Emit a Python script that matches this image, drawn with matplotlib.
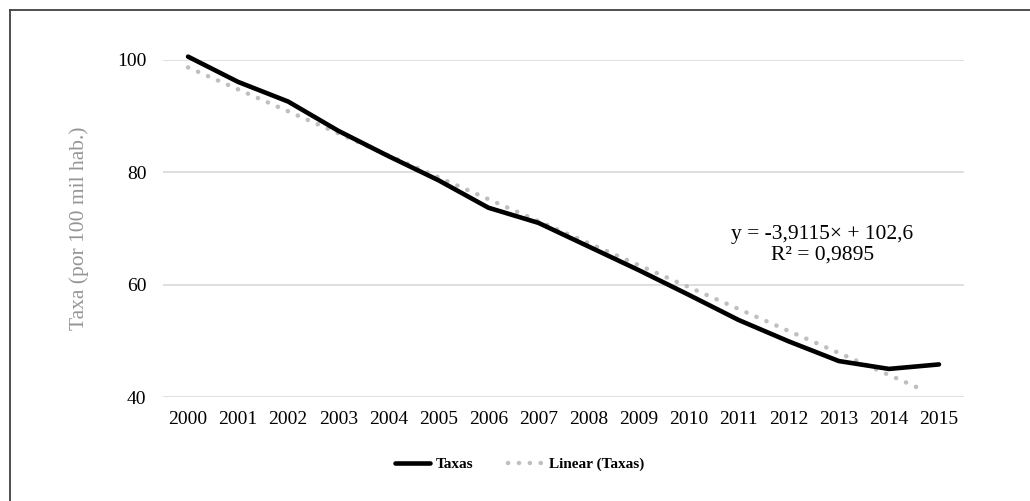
import matplotlib
matplotlib.use('Agg')

import matplotlib.pyplot as plt
from matplotlib.lines import Line2D
import numpy as np

plt.rcParams['font.family'] = ['Liberation Serif', 'DejaVu Serif']

# data
years = [str(y) for y in range(2000, 2016)]
taxas = [100.6, 96.1, 92.6, 87.4, 82.9, 78.6, 73.7, 71.0,
         66.8, 62.6, 58.2, 53.7, 49.9, 46.4, 45.0, 45.8]
trend_slope = -3.9115
trend_intercept = 102.6
trend_r2 = 0.9895
trend_end = 15.7  # excel x (1-based) where the trendline stops
yticks = [40, 60, 80, 100]

W, H = 1030, 501
fig = plt.figure(figsize=(W / 100, H / 100), dpi=100)
ax = fig.add_axes([163 / W, 1 - 397 / H, (964 - 163) / W, (397 - 60) / H])

xs = np.arange(len(taxas))
tx = np.linspace(1, trend_end, 50)
ty = trend_slope * tx + trend_intercept

ax.plot(xs, taxas, color='black', linewidth=3.3, solid_capstyle='round',
        clip_on=False, zorder=3, label='Taxas')
ax.plot(tx - 1, ty, color='#BFBFBF', linewidth=3.2, linestyle=(0, (0.05, 2.4)),
        dash_capstyle='round', clip_on=False, zorder=2, label='Linear (Taxas)')

ax.set_xlim(-0.5, len(taxas) - 0.5)
ax.set_ylim(40, 100)
ax.set_yticks(yticks)
ax.set_xticks(xs)
ax.set_xticklabels(years)
ax.grid(True, axis='y', color='#D9D9D9', linewidth=1.2)
ax.set_axisbelow(True)
for s in ax.spines.values():
    s.set_visible(False)
ax.tick_params(axis='both', length=0, labelsize=14)
ax.tick_params(axis='y', pad=12)
ax.tick_params(axis='x', pad=10)

ax.set_ylabel('Taxa (por 100 mil hab.)', color='#959595', fontsize=15.5, labelpad=20)

eq = 'y = {:.4f}\u00d7 + {:.1f}'.format(trend_slope, trend_intercept).replace('.', ',')
r2 = 'R\u00b2 = {:.4f}'.format(trend_r2).replace('.', ',')
ax.text(12.67, 67.1, eq + '\n' + r2, ha='center', va='center',
        fontsize=15.5, linespacing=1.1)

ax.legend(loc='center', bbox_to_anchor=(0.5 + (519 - 563) / (964 - 163), -0.2),
          ncol=2, frameon=False, prop={'size': 11, 'weight': 'bold'},
          handlelength=2.3, columnspacing=2.3, handletextpad=0.35)

# chart border (only top/left inside the image)
fig.add_artist(Line2D([10 / W, 10 / W], [0, 1 - 10 / H], transform=fig.transFigure,
                      color='#404040', linewidth=1.3))
fig.add_artist(Line2D([10 / W, 1], [1 - 10 / H, 1 - 10 / H], transform=fig.transFigure,
                      color='#404040', linewidth=1.3))

fig.savefig('out.png', dpi=100)
